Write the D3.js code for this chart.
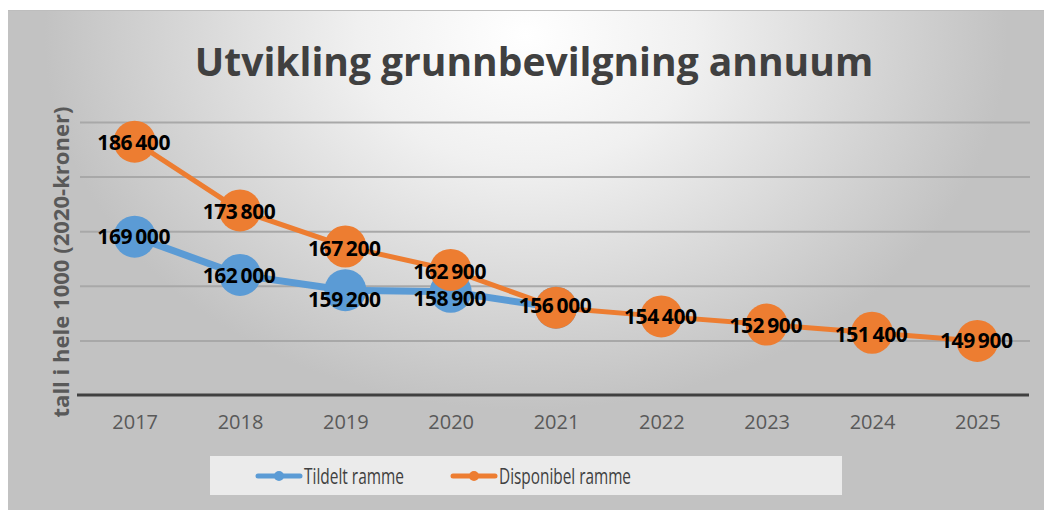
<!DOCTYPE html>
<html>
<head>
<meta charset="utf-8">
<script src="https://cdn.jsdelivr.net/npm/d3@7"></script>
<style>
  body { margin: 0; background: #fff; }
  svg { display: block; }
</style>
</head>
<body>
<svg></svg>
<script>
var width = 1044
var height = 510

var years = ["2017", "2018", "2019", "2020", "2021", "2022", "2023", "2024", "2025"]
var tildelt = [169000, 162000, 159200, 158900, 156000]
var disponibel = [186400, 173800, 167200, 162900, 156000, 154400, 152900, 151400, 149900]
var yTicks = [150000, 160000, 170000, 180000, 190000]

var blue = "#5b9bd5"
var orange = "#ed7d31"

var svg = d3.select("svg")
    .attr("width", width)
    .attr("height", height)

// background panel with soft grey gradient
var grad = svg.append("defs")
    .append("radialGradient")
    .attr("id", "bg")
    .attr("cx", "0.5").attr("cy", "0.05")
    .attr("r", "0.75")
    .attr("gradientTransform", "translate(0.5,0.05) scale(0.62,1) translate(-0.5,-0.05)")
grad.append("stop").attr("offset", "0").attr("stop-color", "#ffffff")
grad.append("stop").attr("offset", "0.35").attr("stop-color", "#f0f0f0")
grad.append("stop").attr("offset", "1").attr("stop-color", "#c2c2c2")

svg.append("rect")
    .attr("x", 8).attr("y", 10)
    .attr("width", width - 8).attr("height", height - 10)
    .attr("fill", "url(#bg)")

svg.append("line")
    .attr("x1", 8).attr("x2", width)
    .attr("y1", 10.5).attr("y2", 10.5)
    .attr("stroke", "#bdbdbd")

var xScale = d3.scalePoint()
    .domain(years)
    .range([82, 1030])
    .padding(0.5)

var yScale = d3.scaleLinear()
    .domain([140000, 190000])
    .range([395, 122])

// gridlines
var yAxis = d3.axisLeft(yScale)
    .tickValues(yTicks)
    .tickSize(-(1030 - 80))
    .tickFormat("")

var gy = svg.append("g")
    .attr("transform", "translate(80, 0)")
    .call(yAxis)
gy.select(".domain").remove()
gy.selectAll(".tick line")
    .attr("stroke", "#a8a8a8")
    .attr("stroke-width", 2)

// x axis
var xAxis = d3.axisBottom(xScale)
    .tickSize(0)
    .tickPadding(20)

var gx = svg.append("g")
    .attr("transform", "translate(0, 395)")
    .call(xAxis)
gx.select(".domain").remove()
gx.append("line")
    .attr("x1", 77).attr("x2", 1029)
    .attr("stroke", "#404040")
    .attr("stroke-width", 3)
gx.selectAll(".tick text")
    .attr("font-family", "'Open Sans', sans-serif")
    .attr("font-size", 20)
    .attr("fill", "#595959")

var line = d3.line()
    .x((d, i) => xScale(years[i]))
    .y(d => yScale(d))

function drawSeries(values, color, lw) {
    svg.append("path")
        .datum(values)
        .attr("d", line)
        .attr("fill", "none")
        .attr("stroke", color)
        .attr("stroke-width", lw)
        .attr("stroke-linejoin", "round")

    svg.append("g")
        .selectAll("circle")
        .data(values)
        .enter()
        .append("circle")
        .attr("cx", (d, i) => xScale(years[i]))
        .attr("cy", d => yScale(d))
        .attr("r", 21)
        .attr("fill", color)
}

drawSeries(tildelt, blue, 7)
drawSeries(disponibel, orange, 5)

var fmt = d => d3.format(",")(d).replace(",", "\u2009")

// small vertical nudges so the labels sit like in the original
function drawLabels(values, dy) {
    svg.append("g")
        .selectAll("text")
        .data(values)
        .enter()
        .append("text")
        .attr("x", (d, i) => xScale(years[i]) - 1)
        .attr("y", (d, i) => yScale(d) + dy[i])
        .attr("dy", "0.35em")
        .attr("text-anchor", "middle")
        .attr("font-family", "'Open Sans', sans-serif")
        .attr("font-weight", "bold")
        .attr("font-size", 21)
        .attr("letter-spacing", -0.4)
        .attr("fill", "#000")
        .text(fmt)
}

drawLabels(tildelt.slice(0, 4), [0, 1, 9, 7])
drawLabels(disponibel, [1, 1, 2, 2, -2, 0, 1, 2, 0])

// title
svg.append("text")
    .attr("x", 534)
    .attr("y", 76)
    .attr("text-anchor", "middle")
    .attr("font-family", "'Open Sans', sans-serif")
    .attr("font-weight", "bold")
    .attr("font-size", 39)
    .attr("fill", "#404040")
    .text("Utvikling grunnbevilgning annuum")

// y axis label
svg.append("text")
    .attr("transform", "rotate(-90)")
    .attr("x", -262)
    .attr("y", 69)
    .attr("text-anchor", "middle")
    .attr("font-family", "'Open Sans', sans-serif")
    .attr("font-weight", "bold")
    .attr("font-size", 21)
    .attr("textLength", 311)
    .attr("lengthAdjust", "spacingAndGlyphs")
    .attr("fill", "#595959")
    .text("tall i hele 1000 (2020-kroner)")

// legend
var legend = svg.append("g")
legend.append("rect")
    .attr("x", 210).attr("y", 456)
    .attr("width", 632).attr("height", 39)
    .attr("fill", "#ebebeb")

var legendItems = [
    { name: "Tildelt ramme", color: blue, x: 258, w: 100 },
    { name: "Disponibel ramme", color: orange, x: 453, w: 132 }
]

var li = legend.selectAll(".item")
    .data(legendItems)
    .enter()
    .append("g")
    .attr("transform", d => `translate(${d.x}, 476)`)

li.append("line")
    .attr("x1", 0).attr("x2", 42)
    .attr("stroke", d => d.color)
    .attr("stroke-width", 5)
    .attr("stroke-linecap", "round")
li.append("circle")
    .attr("cx", 21)
    .attr("r", 5)
    .attr("fill", d => d.color)
li.append("text")
    .attr("x", 46)
    .attr("dy", "0.35em")
    .attr("font-family", "'Open Sans', sans-serif")
    .attr("font-size", 22)
    .attr("textLength", d => d.w)
    .attr("lengthAdjust", "spacingAndGlyphs")
    .attr("fill", "#404040")
    .text(d => d.name)
</script>
</body>
</html>
